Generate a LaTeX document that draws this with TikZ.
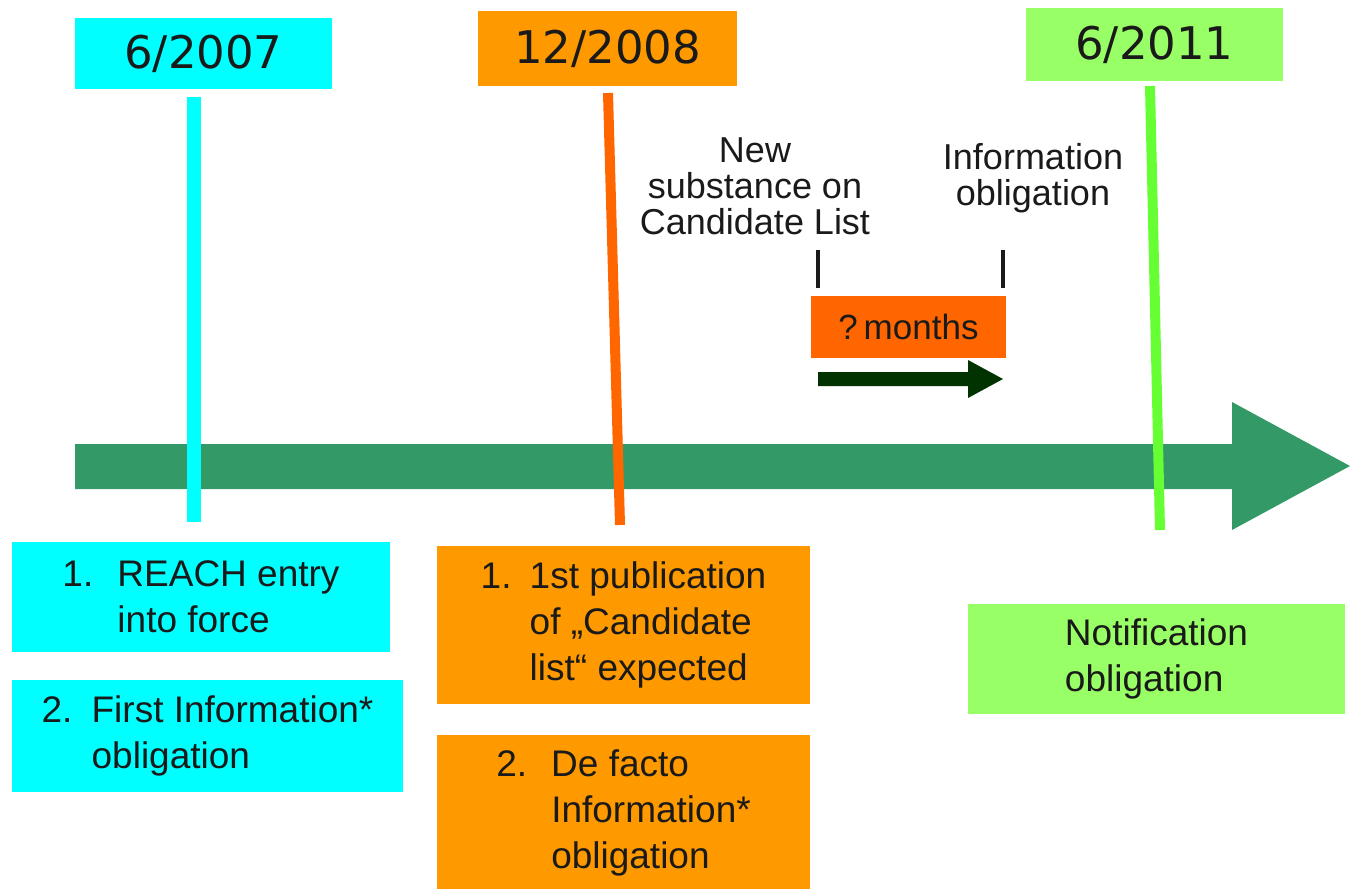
\documentclass[tikz,border=0pt]{standalone}
\usepackage{fontspec}
\setmainfont{Liberation Sans}
\newfontfamily\datefont{DejaVu Sans}
\definecolor{cyanbox}{HTML}{00FFFF}
\definecolor{orangebox}{HTML}{FF9900}
\definecolor{greenbox}{HTML}{99FF66}
\definecolor{redorange}{HTML}{FF6600}
\definecolor{limeline}{HTML}{66FF33}
\definecolor{timeline}{HTML}{339966}
\definecolor{darkarrow}{HTML}{003300}
\definecolor{ink}{HTML}{1A1A1A}
\newcommand{\numitem}[2]{\makebox[#1][l]{#2}}
\begin{document}
\begin{tikzpicture}[x=1pt,y=-1pt,
  datebox/.style={inner sep=0pt, text=ink, font=\datefont\fontsize{45}{50}\selectfont},
  infobox/.style={inner sep=0pt, text=ink, align=left, font=\fontsize{37}{46}\selectfont},
  label/.style={inner sep=0pt, text=ink, align=center, font=\fontsize{36}{36}\selectfont},
  vline/.style={line width=#1},
  tick/.style={line width=4pt, draw=ink}]
\useasboundingbox (0,0) rectangle (1350,889);

% main timeline arrow
\fill[timeline] (75,444) -- (1232,444) -- (1232,402) -- (1350,466) -- (1232,530) -- (1232,489) -- (75,489) -- cycle;

% date boxes
\node[datebox, fill=cyanbox, minimum width=257pt, minimum height=71pt] (d1) at (203.5,53.5) {6/2007};
\node[datebox, fill=orangebox, minimum width=259pt, minimum height=75pt] (d2) at (607.5,48.5) {12/2008};
\node[datebox, fill=greenbox, minimum width=257pt, minimum height=73pt] (d3) at (1154.5,44.5) {6/2011};

% vertical marker lines
\coordinate (c1t) at (194,97);  \coordinate (c1b) at (194,522);
\coordinate (c2t) at (608,93);  \coordinate (c2b) at (620,525);
\coordinate (c3t) at (1150,86); \coordinate (c3b) at (1160,530);
\draw[vline=14pt, cyanbox] (c1t) -- (c1b);
\draw[vline=10pt, redorange] (c2t) -- (c2b);
\draw[vline=10pt, limeline] (c3t) -- (c3b);

% middle labels
\node[label] (newsub) at (755,186) {New\\substance on\\Candidate List};
\node[label] (infoob) at (1033,178) {Information\\obligation};

% ticks
\coordinate (t1t) at (818,250); \coordinate (t1b) at (818,288);
\coordinate (t2t) at (1003,250); \coordinate (t2b) at (1003,288);
\draw[tick] (t1t) -- (t1b);
\draw[tick] (t2t) -- (t2b);

% months box
\node[inner sep=0pt, fill=redorange, text=ink, minimum width=195pt, minimum height=62pt, font=\fontsize{35}{38}\selectfont] (months) at (908.5,327) {?\,months};

% small dark arrow
\fill[darkarrow] (818,372) -- (968,372) -- (968,360) -- (1003,379) -- (968,398) -- (968,386) -- (818,386) -- cycle;

% bottom boxes
\node[infobox, fill=cyanbox, minimum width=378pt, minimum height=110pt] (b1) at (201,597)
  {\numitem{55pt}{1.}REACH entry\\\hspace*{55pt}into force};
\node[infobox, fill=cyanbox, minimum width=391pt, minimum height=112pt] (b2) at (207.5,736)
  {\numitem{50pt}{2.}First Information*\\\hspace*{50pt}obligation};
\node[infobox, fill=orangebox, minimum width=373pt, minimum height=158pt] (b3) at (623.5,625)
  {\numitem{49pt}{1.}1st publication\\\hspace*{49pt}of „Candidate\\\hspace*{49pt}list“ expected};
\node[infobox, fill=orangebox, minimum width=373pt, minimum height=156pt] (b4) at (623.5,813)
  {\numitem{55pt}{2.}De facto\\\hspace*{55pt}Information*\\\hspace*{55pt}obligation};
\node[infobox, fill=greenbox, minimum width=377pt, minimum height=110pt] (b5) at (1156.5,659)
  {Notification\\obligation};
\end{tikzpicture}
\end{document}
